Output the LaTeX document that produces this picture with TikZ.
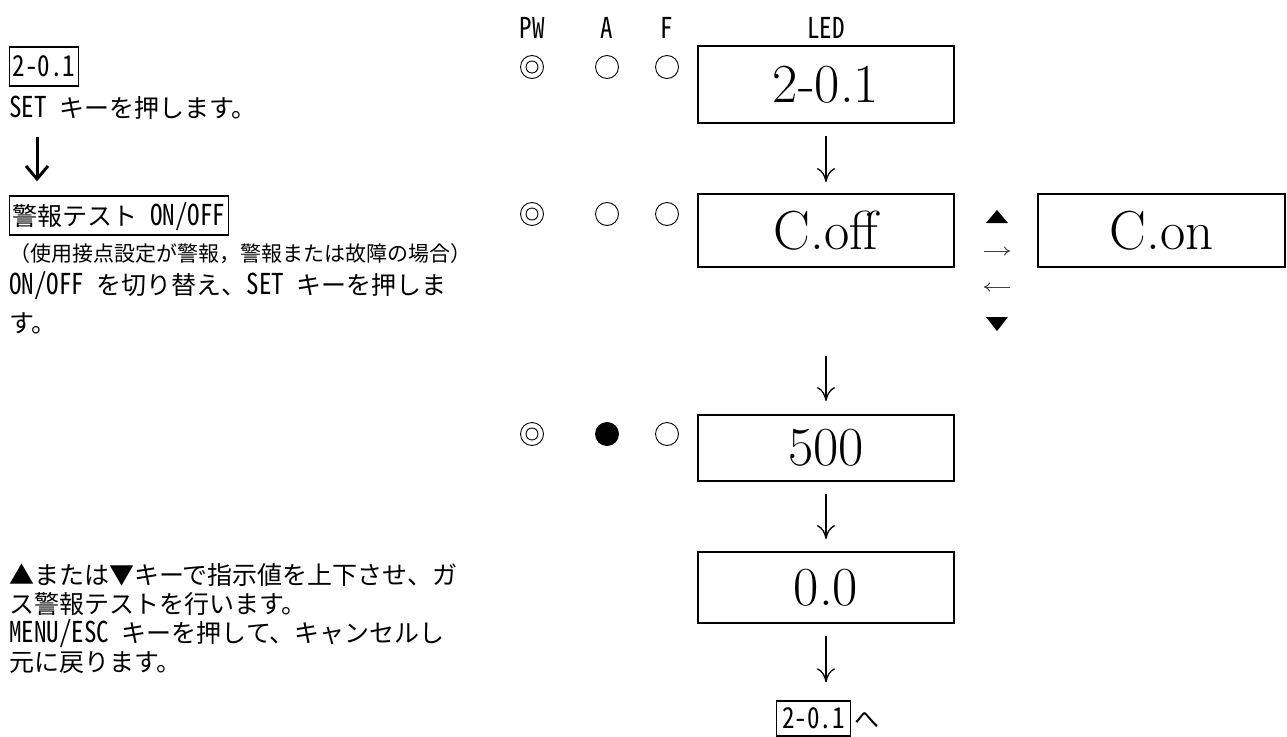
\documentclass[tikz,border=0pt]{standalone}
\usepackage{fontspec}
\newfontfamily\jp{Noto Sans CJK JP}
\newfontfamily\hw[RawFeature=+hwid,Scale=1.15,FakeStretch=0.87]{Noto Sans CJK JP}
\usetikzlibrary{arrows.meta}
\tikzset{
  ledbox/.style={draw, line width=1.8pt, minimum width=256pt, inner sep=0pt,
    font=\fontsize{55}{60}\selectfont},
  jtxt/.style={anchor=west, inner sep=0pt, font=\jp\fontsize{25}{28}\selectfont,
    text height=22pt, text depth=3pt},
  jsmall/.style={anchor=west, inner sep=0pt, font=\jp\fontsize{21}{24}\selectfont,
    text height=18.5pt, text depth=2.5pt},
  jbox/.style={draw, line width=1.4pt, anchor=west, inner xsep=3pt, inner ysep=0pt,
    minimum height=39pt, font=\jp\fontsize{25}{28}\selectfont,
    text height=22pt, text depth=3pt},
  hdr/.style={inner sep=0pt, font=\hw\fontsize{25}{28}\selectfont},
  lampoff/.style={circle, draw, line width=0.9pt, minimum size=23pt, inner sep=0pt},
  lampon/.style={lampoff, fill=black},
  lamppw/.style={lampoff, path picture={\draw[line width=0.9pt] (path picture bounding box.center) circle (6pt);}},
  flow/.style={line width=1.3pt, -{To[length=14pt,width=18pt]}},
  bigflow/.style={line width=3pt, -{Straight Barb[length=13pt,width=22pt,line width=3pt]}},
  swap/.style={line width=1pt, draw=black!75, -{To[length=6pt,width=9pt]}},
}
\begin{document}
\begin{tikzpicture}[x=1pt,y=-1pt]
\useasboundingbox (0,0) rectangle (1287,736);

% header
\node[hdr] (hpw) at (532,28) {PW};
\node[hdr] (ha) at (607,28) {A};
\node[hdr] (hf) at (667,28) {F};
\node[hdr] (hled) at (826,28) {LED};

% lamps
\node[lamppw] (p1) at (532,67) {};
\node[lampoff] (a1) at (607,67) {};
\node[lampoff] (f1) at (667,67) {};
\node[lamppw] (p2) at (532,214) {};
\node[lampoff] (a2) at (607,214) {};
\node[lampoff] (f2) at (667,214) {};
\node[lamppw] (p3) at (532,434) {};
\node[lampon] (a3) at (607,434) {};
\node[lampoff] (f3) at (667,434) {};

% LED boxes
\node[ledbox, minimum height=77pt] (b1) at (826,84.5) {2-0.1};
\node[ledbox, minimum height=73pt] (b2) at (826,230.5) {C.off};
\node[ledbox, minimum height=73pt, minimum width=247pt] (con) at (1161.5,230.5) {C.on};
\node[ledbox, minimum height=66pt] (b3) at (826,448) {500};
\node[ledbox, minimum height=71pt] (b4) at (826,587.5) {0.0};
\node[jbox, minimum height=35pt, minimum width=74pt] (fin) at (776,718.5) {\hw 2-0.1};
\node[jtxt, anchor=west] (he) at ([xshift=3pt]fin.east) {へ};

% flow arrows
\draw[flow, shorten <=12pt, shorten >=11pt] (b1) -- (b2);
\draw[flow, shorten <=88pt, shorten >=13pt] (b2) -- (b3);
\draw[flow, shorten <=12pt, shorten >=12pt] (b3) -- (b4);
\draw[flow, shorten <=12pt, shorten >=18pt] (b4.south) -- (b4.south |- fin.north);

% toggle symbols
\fill (986,223) -- (1008,223) -- (997,210) -- cycle;
\fill (986,317) -- (1008,317) -- (997,331) -- cycle;
\coordinate (ra1) at (984,251);
\coordinate (ra2) at (1010,251);
\coordinate (la1) at (1010,287);
\coordinate (la2) at (984,287);
\draw[swap] (ra1) -- (ra2);
\draw[swap] (la1) -- (la2);

% left texts
\node[jbox] (lb1) at (9,66.5) {\hw 2-0.1};
\node[jtxt] (l1) at (9,108) {{\hw SET }キーを押します。};
\node[jbox] (lb2) at (9,215.5) {警報テスト{\hw\ ON/OFF}};
\coordinate (lax) at (37,0);
\draw[bigflow, shorten <=16pt, shorten >=14pt] (l1.south -| lax) -- (lb2.north -| lax);
\node[jsmall] (l2) at (9,253) {（使用接点設定が警報，警報または故障の場合）};
\node[jtxt] (l3) at (9,285) {{\hw ON/OFF }を切り替え、{\hw SET }キーを押しま};
\node[jtxt] (l4) at (9,323) {す。};

\node[jtxt] (m1) at (9,575) {▲または▼キーで指示値を上下させ、ガ};
\node[jtxt] (m2) at (9,604) {ス警報テストを行います。};
\node[jtxt] (m3) at (9,633) {{\hw MENU/ESC }キーを押して、キャンセルし};
\node[jtxt] (m4) at (9,662) {元に戻ります。};
\end{tikzpicture}
\end{document}
